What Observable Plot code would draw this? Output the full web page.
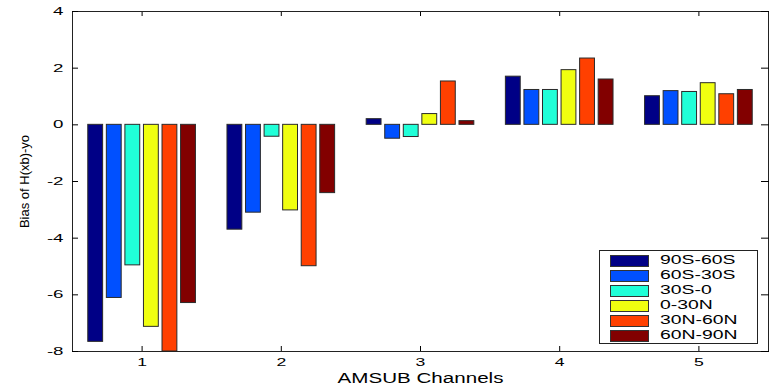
<!DOCTYPE html>
<html>
<head>
<meta charset="utf-8">
<script src="https://cdn.jsdelivr.net/npm/d3@7"></script>
<script src="https://cdn.jsdelivr.net/npm/@observablehq/plot@0.6"></script>
<style>
  body { margin: 0; background: #fff; }
  #wrap { position: relative; width: 774px; height: 387px; }
  #legend {
    position: absolute; left: 599px; top: 250px; width: 159px; height: 94px;
    border: 1px solid #222; background: #fff; box-sizing: border-box;
    font-family: "Liberation Sans", Arial, sans-serif; font-size: 12.5px; color: #000;
  }
  .row { position: absolute; left: 0; height: 15px; width: 100%; }
  .sw { position: absolute; left: 10px; top: 2px; width: 37px; height: 10px; border: 1px solid #333; }
  .lb { position: absolute; left: 60px; top: 0px; line-height: 15px; white-space: nowrap;
        transform: scaleX(1.55); transform-origin: 0 50%; }
</style>
</head>
<body>
<div id="wrap"><div id="legend"></div></div>
<script>
// ---- data ----
const channels = [1, 2, 3, 4, 5];
const regions = ["90S-60S", "60S-30S", "30S-0", "0-30N", "30N-60N", "60N-90N"];
const colors = ["#000086", "#0050ff", "#20ffd8", "#f0ff10", "#ff4000", "#820000"];
const bias90S60S = [-7.66, -3.70, 0.20, 1.70, 1.01];
const bias60S30S = [-6.11, -3.10, -0.49, 1.23, 1.19];
const bias30S0   = [-4.96, -0.42, -0.43, 1.23, 1.16];
const bias0N30N  = [-7.13, -3.02, 0.38, 1.93, 1.47];
const bias30N60N = [-8.00, -4.99, 1.53, 2.34, 1.08];
const bias60N90N = [-6.29, -2.41, 0.13, 1.60, 1.23];
const yTicks = [-8, -6, -4, -2, 0, 2, 4];

const series = [bias90S60S, bias60S30S, bias30S0, bias0N30N, bias30N60N, bias60N90N];
const rows = [];
series.forEach((vals, i) => vals.forEach((v, j) => rows.push({channel: channels[j], region: regions[i], i, value: v})));

// MATLAB-style grouped bars: group width 0.8, each bar 0.8 of its slot
const n = regions.length;
const slot = 0.8 / n;
const bw = slot * 0.8;
const center = d => d.channel + (d.i - (n - 1) / 2) * slot;

const chart = Plot.plot({
  width: 774,
  height: 387,
  marginLeft: 72,
  marginRight: 6,
  marginTop: 11,
  marginBottom: 36,
  style: { fontFamily: "Liberation Sans, Arial, sans-serif", fontSize: "11px", color: "#000", background: "#fff" },
  x: { domain: [0.5, 5.5] },
  y: { domain: [-8, 4] },
  color: { domain: regions, range: colors },
  marks: [
    Plot.rect(rows, {
      x1: d => center(d) - bw / 2,
      x2: d => center(d) + bw / 2,
      y1: 0,
      y2: "value",
      fill: "region",
      stroke: "#2a2a2a",
      strokeWidth: 1,
      clip: true
    }),
    Plot.frame({ stroke: "#222" }),
    Plot.axisX({ ticks: channels, tickSize: -5, tickPadding: 12, tickFormat: d => String(d),
      label: "AMSUB Channels", labelAnchor: "center", labelArrow: "none", labelOffset: 31 }),
    Plot.axisX({ anchor: "top", ticks: channels, tickSize: -4, tickFormat: () => "", label: null }),
    Plot.axisY({ ticks: yTicks, tickSize: -6, tickPadding: 15, tickFormat: d => String(d),
      label: "Bias of H(xb)-yo", labelAnchor: "center", labelArrow: "none", labelOffset: 53 }),
    Plot.axisY({ anchor: "right", ticks: yTicks, tickSize: -8, tickFormat: () => "", label: null })
  ]
});

document.getElementById("wrap").prepend(chart);

// remove any direction arrows from axis labels
chart.querySelectorAll('g[aria-label="x-axis label"] text, g[aria-label="y-axis label"] text').forEach(t => {
  t.textContent = t.textContent.replace(/\s*[↑↓←→]\s*/g, "");
});

// widen horizontal text like the reference rendering
function stretch(sel, k) {
  chart.querySelectorAll(sel).forEach(t => {
    const L = t.getComputedTextLength();
    if (L > 0) {
      t.setAttribute("textLength", L * k);
      t.setAttribute("lengthAdjust", "spacingAndGlyphs");
    }
  });
}
chart.querySelectorAll('g[aria-label="x-axis label"] text').forEach(t => t.style.fontSize = "14px");
chart.querySelectorAll('g[aria-label="y-axis label"] text').forEach(t => t.style.fontSize = "13px");
stretch('g[aria-label="x-axis tick label"] text', 1.6);
stretch('g[aria-label="y-axis tick label"] text', 1.7);
stretch('g[aria-label="x-axis label"] text', 1.47);

// legend
const legend = document.getElementById("legend");
regions.forEach((r, i) => {
  const row = document.createElement("div");
  row.className = "row";
  row.style.top = (2 + i * 15) + "px";
  const sw = document.createElement("div");
  sw.className = "sw";
  sw.style.background = colors[i];
  const lb = document.createElement("div");
  lb.className = "lb";
  lb.textContent = r;
  row.appendChild(sw);
  row.appendChild(lb);
  legend.appendChild(row);
});
</script>
</body>
</html>
